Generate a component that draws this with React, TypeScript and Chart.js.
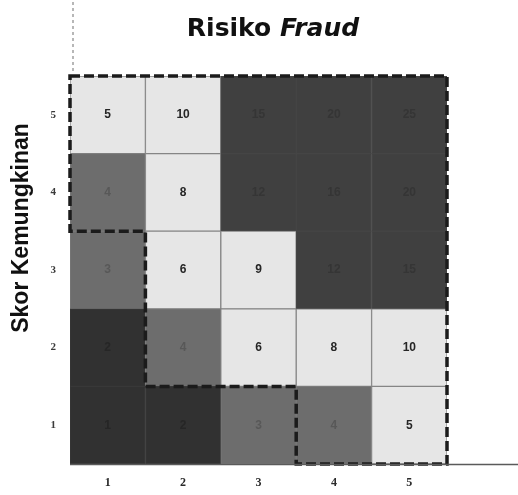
import React, { useEffect, useRef } from "react";
import { Chart, registerables } from "chart.js";

Chart.register(...registerables);

// Impact score categories (x axis)
const impactLabels = ["1", "2", "3", "4", "5"];
// Likelihood score rows (y axis), bottom to top
const likelihoodRows = [1, 2, 3, 4, 5];

// Risk score written in each cell, per likelihood row (columns impact 1..5)
const scoreRow1 = [1, 2, 3, 4, 5];
const scoreRow2 = [2, 4, 6, 8, 10];
const scoreRow3 = [3, 6, 9, 12, 15];
const scoreRow4 = [4, 8, 12, 16, 20];
const scoreRow5 = [5, 10, 15, 20, 25];
const scoreRows = [scoreRow1, scoreRow2, scoreRow3, scoreRow4, scoreRow5];

// Risk zone of each cell: D = dark low, M = medium, L = light, H = dark high
const zoneRow1 = ["D", "D", "M", "M", "L"];
const zoneRow2 = ["D", "M", "L", "L", "L"];
const zoneRow3 = ["M", "L", "L", "H", "H"];
const zoneRow4 = ["M", "L", "H", "H", "H"];
const zoneRow5 = ["L", "L", "H", "H", "H"];
const zoneRows = [zoneRow1, zoneRow2, zoneRow3, zoneRow4, zoneRow5];

// Dashed zone outline, in cell-edge units (impact edge, likelihood edge)
const zoneOutline = [
  [0, 5], [5, 5], [5, 0], [3, 0], [3, 1], [1, 1], [1, 3], [0, 3],
];

const zoneFill: Record<string, string> = {
  D: "#313131",
  M: "#6d6d6d",
  L: "#e6e6e6",
  H: "#404040",
};
const zoneBorder: Record<string, string> = {
  D: "#383838",
  M: "#7a7a7a",
  L: "#858585",
  H: "#464646",
};
const zoneText: Record<string, string> = {
  D: "#262626",
  M: "#585858",
  L: "#262626",
  H: "#353535",
};

const cellLabelsPlugin = {
  id: "cellLabels",
  afterDatasetsDraw(chart: any) {
    const ctx = chart.ctx;
    const xs = chart.scales.x;
    const ys = chart.scales.y;
    // dashed outline
    ctx.save();
    ctx.strokeStyle = "#1b1b1b";
    ctx.lineWidth = 3.5;
    ctx.setLineDash([10, 4]);
    ctx.beginPath();
    zoneOutline.forEach(([gx, gy], i) => {
      const px = xs.getPixelForValue(gx - 0.5);
      const py = ys.getPixelForValue(gy + 0.5);
      if (i === 0) ctx.moveTo(px, py);
      else ctx.lineTo(px, py);
    });
    ctx.closePath();
    ctx.stroke();
    ctx.restore();

    // labels
    ctx.save();
    ctx.textAlign = "center";
    ctx.textBaseline = "middle";
    ctx.font = "bold 12px 'Liberation Sans', Arial, sans-serif";
    chart.data.datasets.forEach((ds: any, di: number) => {
      const meta = chart.getDatasetMeta(di);
      meta.data.forEach((el: any, j: number) => {
        const zone = zoneRows[di][j];
        ctx.fillStyle = zoneText[zone];
        const cy = (el.y + el.base) / 2;
        ctx.fillText(String(scoreRows[di][j]), el.x, cy);
      });
    });
    ctx.restore();
  },
  afterDraw(chart: any) {
    const ctx = chart.ctx;
    const area = chart.chartArea;
    ctx.save();
    // baseline
    ctx.strokeStyle = "#5a5a5a";
    ctx.lineWidth = 1.5;
    ctx.beginPath();
    ctx.moveTo(area.left, area.bottom + 0.5);
    ctx.lineTo(chart.width, area.bottom + 0.5);
    ctx.stroke();
    // faint scan line above plot
    ctx.strokeStyle = "#a0a0a0";
    ctx.lineWidth = 1.5;
    ctx.setLineDash([3, 3]);
    ctx.beginPath();
    ctx.moveTo(area.left + 3, 2);
    ctx.lineTo(area.left + 3, area.top - 2);
    ctx.stroke();
    ctx.setLineDash([]);

    // title
    ctx.fillStyle = "#111111";
    ctx.textBaseline = "alphabetic";
    ctx.textAlign = "left";
    const f1 = "bold 25px 'DejaVu Sans', Verdana, sans-serif";
    const f2 = "oblique bold 25px 'DejaVu Sans', Verdana, sans-serif";
    ctx.font = f1;
    const w1 = ctx.measureText("Risiko ").width;
    ctx.font = f2;
    const w2 = ctx.measureText("Fraud").width;
    const start = 273 - (w1 + w2) / 2;
    ctx.font = f1;
    ctx.fillText("Risiko ", start, 36);
    ctx.font = f2;
    ctx.fillText("Fraud", start + w1, 36);

    // y axis title
    ctx.translate(22, (area.top + area.bottom) / 2 - 42);
    ctx.rotate(-Math.PI / 2);
    ctx.textAlign = "center";
    ctx.textBaseline = "middle";
    ctx.font = "bold 23px 'Liberation Sans', Arial, sans-serif";
    ctx.fillText("Skor Kemungkinan", 0, 0);
    ctx.restore();
  },
};

export default function App() {
  const ref = useRef<HTMLCanvasElement>(null);
  useEffect(() => {
    const datasets = likelihoodRows.map((r, ri) => ({
      label: `Kemungkinan ${r}`,
      data: impactLabels.map(() => [r - 0.5, r + 0.5]),
      backgroundColor: zoneRows[ri].map((z) => zoneFill[z]),
      borderColor: zoneRows[ri].map((z) => zoneBorder[z]),
      borderWidth: 1,
      borderSkipped: false,
      barPercentage: 1,
      categoryPercentage: 1,
      grouped: false,
    }));
    const chart = new Chart(ref.current!, {
      type: "bar",
      data: { labels: impactLabels, datasets: datasets as any },
      options: {
        animation: false,
        responsive: true,
        maintainAspectRatio: false,
        layout: { padding: { top: 76, right: 71, left: 0, bottom: 0 } },
        plugins: {
          legend: { display: false },
          tooltip: { enabled: false },
          title: { display: false },
        },
        scales: {
          x: {
            type: "category",
            grid: { display: false, drawTicks: false },
            border: { display: false },
            ticks: {
              padding: 12,
              color: "#2a2a2a",
              font: { family: "'Liberation Serif', serif", weight: "bold", size: 12 },
            },
            afterFit: (s: any) => {
              s.height = 31;
            },
          },
          y: {
            type: "linear",
            min: 0.5,
            max: 5.5,
            grid: { display: false, drawTicks: false },
            border: { display: false },
            afterBuildTicks: (s: any) => {
              s.ticks = likelihoodRows.map((v) => ({ value: v }));
            },
            ticks: {
              padding: 14,
              color: "#3a3a3a",
              font: { family: "'Liberation Serif', serif", weight: "bold", size: 11 },
              callback: (v: any) => String(v),
            },
            afterFit: (s: any) => {
              s.width = 70;
            },
          },
        },
      },
      plugins: [cellLabelsPlugin],
    });
    return () => chart.destroy();
  }, []);
  return (
    <div style={{ position: "absolute", left: 0, top: 0, width: 518, height: 495 }}>
      <canvas ref={ref} />
    </div>
  );
}
